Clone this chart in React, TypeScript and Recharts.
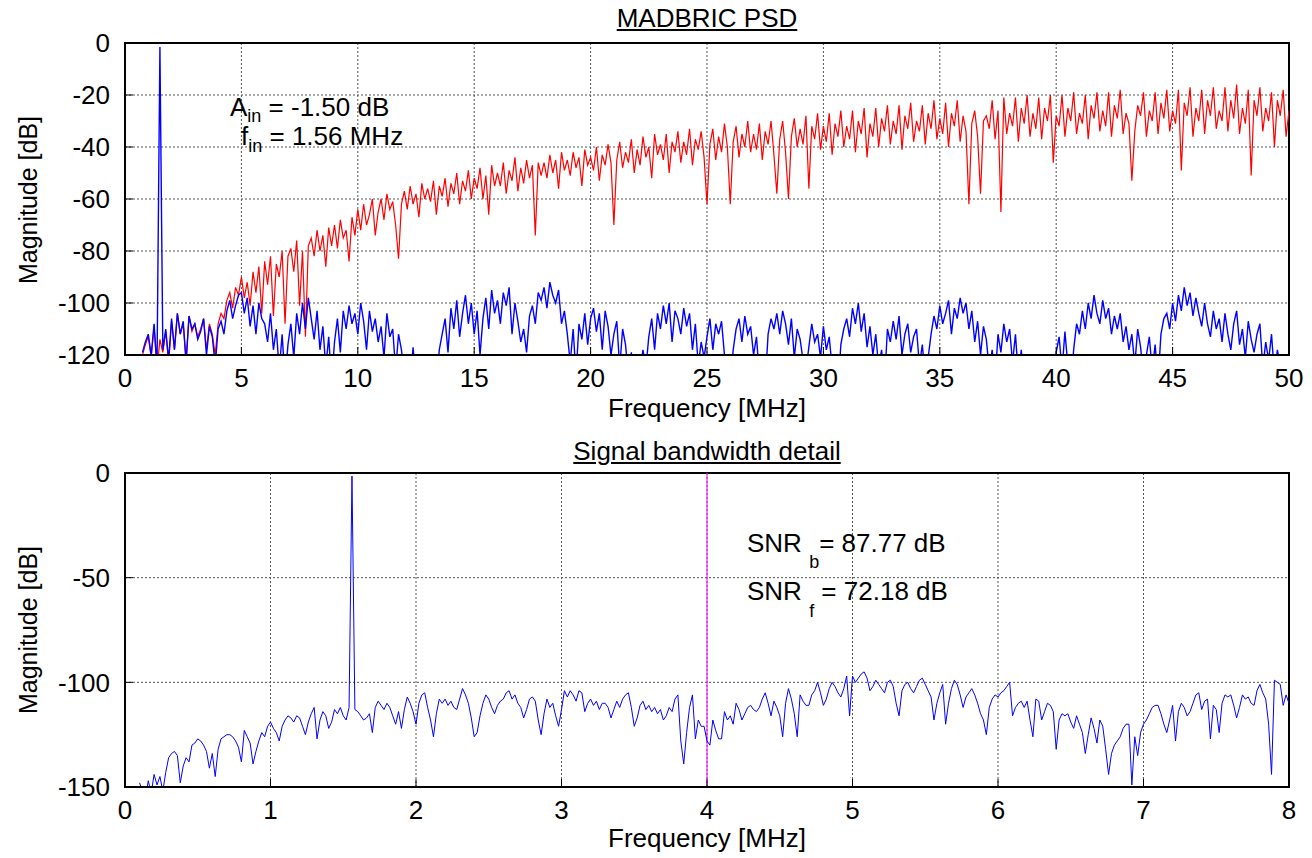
import React from 'react';
import { LineChart, Line, XAxis, YAxis, CartesianGrid, ReferenceArea, ReferenceLine } from 'recharts';

const FONT = '"Liberation Sans", Arial, Helvetica, sans-serif';

// upper plot: PSD bins every 0.125 MHz from 0.75 MHz
const PSD_START = 0.75;
const PSD_STEP = 0.125;

const psdRed = [
  -120, -116,
  -113, -121, -109, -126, -114, -119, -111, -123,
  -107, -118, -104, -112, -108, -122, -105, -111,
  -108, -113, -110, -106, -118, -108, -112, -120,
  -108, -104, -106, -99, -96, -102, -94, -97,
  -90, -98, -92, -101, -88, -96, -86, -104,
  -84, -93, -82, -105, -85, -90, -80, -108,
  -82, -79, -88, -76, -101, -80, -113, -78,
  -75, -82, -72, -80, -74, -86, -71, -78,
  -70, -79, -68, -75, -72, -84, -67, -74,
  -64, -72, -62, -70, -66, -60, -74, -65,
  -60, -68, -58, -64, -61, -70, -83, -62,
  -57, -64, -55, -62, -58, -67, -54, -60,
  -56, -61, -53, -66, -55, -59, -52, -63,
  -54, -58, -50, -62, -53, -57, -49, -60,
  -52, -56, -48, -60, -51, -66, -47, -55,
  -50, -55, -46, -58, -49, -53, -44, -57,
  -48, -54, -45, -52, -47, -74, -46, -51,
  -46, -52, -43, -50, -45, -56, -42, -49,
  -45, -51, -42, -48, -44, -55, -41, -47,
  -44, -49, -40, -53, -43, -47, -39, -46,
  -70, -45, -38, -48, -42, -46, -37, -50,
  -41, -47, -36, -44, -40, -52, -35, -43,
  -39, -45, -35, -50, -38, -42, -34, -46,
  -38, -43, -33, -47, -37, -41, -34, -44,
  -62, -39, -33, -45, -36, -42, -31, -40,
  -62, -38, -32, -44, -35, -40, -30, -42,
  -35, -41, -31, -45, -34, -39, -30, -43,
  -58, -37, -30, -42, -60, -36, -29, -40,
  -33, -39, -28, -56, -32, -37, -27, -41,
  -32, -38, -27, -43, -31, -36, -26, -40,
  -32, -37, -26, -42, -30, -35, -25, -44,
  -31, -36, -25, -40, -29, -34, -24, -39,
  -30, -35, -24, -41, -28, -33, -23, -38,
  -30, -34, -24, -39, -27, -33, -22, -37,
  -29, -35, -23, -40, -27, -32, -22, -38,
  -28, -34, -62, -31, -26, -36, -58, -30,
  -28, -33, -22, -37, -26, -65, -21, -35,
  -27, -32, -21, -38, -25, -31, -20, -36,
  -27, -33, -21, -37, -25, -30, -20, -46,
  -28, -32, -20, -36, -25, -30, -19, -35,
  -27, -31, -20, -37, -24, -29, -19, -34,
  -26, -32, -19, -36, -24, -29, -18, -35,
  -27, -31, -53, -34, -24, -28, -19, -36,
  -26, -30, -19, -35, -23, -29, -18, -34,
  -26, -31, -18, -49, -23, -28, -17, -36,
  -25, -30, -18, -35, -22, -28, -17, -33,
  -26, -30, -17, -34, -22, -29, -16, -35,
  -25, -31, -18, -51, -22, -28, -17, -34,
  -25, -30, -19, -40, -22, -28, -18, -36,
  -26,
];

const psdBlue = [
  -119, -115,
  -112, -120, -108, -125, -1.5, -118, -110, -122,
  -106, -118, -104, -112, -107, -123, -105, -110,
  -108, -114, -111, -106, -120, -109, -113, -124,
  -110, -107, -112, -103, -99, -106, -101, -97,
  -96, -104, -98, -109, -101, -112, -100, -106,
  -108, -115, -104, -118, -110, -126, -112, -130,
  -116, -108, -121, -104, -112, -100, -110, -98,
  -106, -114, -103, -118, -109, -125, -113, -130,
  -115, -106, -119, -103, -110, -101, -108, -104,
  -112, -100, -107, -118, -103, -111, -106, -115,
  -109, -121, -104, -113, -110, -126, -112, -118,
  -128, -135, -130, -117, -132, -138, -131, -136,
  -129, -134, -125, -131, -118, -112, -106, -119,
  -102, -110, -99, -113, -104, -97, -108, -100,
  -112, -103, -120, -106, -98, -110, -95, -104,
  -99, -108, -96, -101, -94, -112, -100, -107,
  -115, -110, -119, -105, -101, -108, -96, -99,
  -94, -102, -92, -97, -100, -95, -108, -103,
  -112, -123, -110, -128, -108, -114, -104, -116,
  -106, -102, -111, -104, -118, -103, -109, -120,
  -112, -107, -125, -110, -116, -128, -119, -132,
  -130, -126, -118, -125, -113, -106, -118, -104,
  -110, -101, -108, -100, -115, -103, -106, -112,
  -102, -109, -104, -118, -108, -124, -115, -121,
  -113, -106, -118, -108, -112, -107, -120, -128,
  -132, -118, -110, -106, -115, -105, -112, -109,
  -120, -113, -128, -124, -131, -112, -106, -110,
  -104, -112, -103, -108, -116, -106, -121, -110,
  -114, -122, -126, -117, -108, -115, -112, -121,
  -109, -118, -113, -125, -128, -134, -116, -110,
  -106, -113, -102, -108, -100, -111, -104, -117,
  -109, -120, -112, -125, -118, -131, -110, -115,
  -107, -114, -105, -120, -112, -108, -119, -113,
  -110, -124, -116, -129, -121, -112, -105, -110,
  -101, -108, -104, -99, -112, -102, -106, -98,
  -104, -100, -110, -103, -115, -107, -120, -109,
  -114, -126, -118, -130, -112, -119, -108, -115,
  -110, -123, -112, -128, -118, -133, -138, -131,
  -136, -129, -134, -140, -132, -128, -135, -130,
  -119, -113, -126, -111, -124, -131, -118, -108,
  -112, -103, -110, -100, -106, -97, -104, -108,
  -99, -106, -102, -112, -105, -110, -104, -115,
  -109, -118, -112, -124, -110, -117, -128, -120,
  -113, -126, -116, -130, -112, -106, -104, -110,
  -100, -107, -97, -103, -94, -101, -96, -105,
  -98, -104, -109, -100, -108, -113, -103, -110,
  -106, -115, -104, -112, -118, -108, -103, -116,
  -110, -121, -107, -114, -119, -112, -108, -125,
  -115, -122, -112, -128, -118, -124, -135, -140,
  -138,
];

const psdFreqTicks = [0, 5, 10, 15, 20, 25, 30, 35, 40, 45, 50];
const psdDbTicks = [-120, -100, -80, -60, -40, -20, 0];

// lower plot: signal band, bins every 0.02 MHz from 0.1 MHz
const BAND_START = 0.1;
const BAND_STEP = 0.02;

const bandBlue = [
  -148, -152, -156, -147, -153, -144, -149, -145, -152, -143,
  -136, -134, -133, -135, -148, -140, -136, -138, -130, -129,
  -127, -128, -130, -133, -141, -134, -145, -132, -127, -126,
  -125, -125, -126, -128, -131, -138, -123, -126, -129, -139,
  -133, -128, -124, -126, -121, -119, -122, -124, -128, -121,
  -118, -116, -117, -119, -116, -117, -121, -125, -119, -115,
  -112, -127, -118, -114, -116, -122, -119, -113, -115, -112,
  -116, -118, -112, -1.5, -113, -114, -116, -118, -117, -115,
  -124, -112, -109, -111, -113, -110, -112, -116, -120, -114,
  -122, -113, -107, -110, -114, -120, -110, -106, -105, -112,
  -118, -126, -115, -108, -110, -108, -111, -109, -112, -113,
  -108, -103, -106, -110, -117, -126, -124, -116, -110, -106,
  -108, -112, -115, -111, -109, -108, -105, -104, -108, -106,
  -110, -112, -117, -113, -108, -107, -109, -118, -125, -115,
  -108, -112, -110, -116, -121, -113, -104, -107, -104, -106,
  -109, -104, -105, -114, -110, -108, -111, -109, -113, -110,
  -110, -112, -117, -113, -109, -112, -108, -106, -105, -112,
  -121, -117, -111, -109, -113, -111, -114, -112, -115, -113,
  -118, -116, -112, -114, -108, -106, -128, -139, -124, -112,
  -106, -127, -118, -121, -121, -128, -130, -118, -123, -127,
  -127, -114, -118, -116, -120, -110, -113, -118, -115, -112,
  -111, -113, -114, -112, -108, -105, -110, -116, -109, -112,
  -116, -126, -110, -103, -108, -115, -126, -106, -109, -111,
  -111, -106, -104, -100, -105, -111, -108, -103, -100, -102,
  -105, -107, -103, -97, -116, -97, -100, -98, -96, -95,
  -98, -104, -102, -99, -101, -103, -105, -100, -99, -102,
  -110, -116, -104, -101, -100, -103, -105, -102, -99, -98,
  -101, -104, -107, -118, -110, -105, -101, -120, -110, -103,
  -99, -101, -106, -112, -107, -105, -103, -106, -110, -115,
  -118, -125, -112, -108, -106, -107, -105, -104, -102, -100,
  -116, -112, -110, -109, -112, -109, -118, -126, -108, -109,
  -118, -114, -110, -111, -114, -132, -118, -115, -116, -115,
  -119, -122, -116, -120, -124, -134, -125, -117, -122, -129,
  -118, -121, -132, -144, -134, -130, -128, -126, -122, -120,
  -120, -149, -126, -135, -124, -120, -118, -115, -112, -111,
  -111, -115, -120, -124, -118, -111, -128, -114, -110, -112,
  -116, -114, -110, -106, -105, -113, -109, -108, -127, -111,
  -113, -124, -110, -106, -107, -106, -111, -117, -112, -106,
  -108, -107, -110, -111, -104, -101, -105, -108, -120, -144,
  -99, -100, -101, -111, -106, -110,
];

const bandFreqTicks = [0, 1, 2, 3, 4, 5, 6, 7, 8];
const bandDbTicks = [-150, -100, -50, 0];

const psdData = psdRed.map((v, i) => ({ f: PSD_START + i * PSD_STEP, red: v, blue: psdBlue[i] }));
const bandData = bandBlue.map((v, i) => ({ f: BAND_START + i * BAND_STEP, blue: v }));

const tickStyle = { fill: '#000', fontSize: 26, fontFamily: FONT };

const Title = ({ text, top }: { text: string; top: number }) => (
  <div style={{
    position: 'absolute', left: 125, width: 1164, top, textAlign: 'center',
    fontFamily: FONT, fontSize: 26, lineHeight: '26px', textDecoration: 'underline',
  }}>{text}</div>
);

const AxisLabelX = ({ top }: { top: number }) => (
  <div style={{
    position: 'absolute', left: 125, width: 1164, top, textAlign: 'center',
    fontFamily: FONT, fontSize: 26, lineHeight: '26px',
  }}>Frequency [MHz]</div>
);

const AxisLabelY = ({ cy }: { cy: number }) => (
  <div style={{
    position: 'absolute', left: 28 - 150, top: cy - 13, width: 300, textAlign: 'center',
    fontFamily: FONT, fontSize: 25, lineHeight: '26px', transform: 'rotate(-90deg)',
  }}>Magnitude [dB]</div>
);

const Sub = ({ children, size, shift }: { children: React.ReactNode; size: number; shift: number }) => (
  <span style={{ fontSize: size, position: 'relative', top: shift }}>{children}</span>
);

const textLine = (left: number, top: number, size: number): React.CSSProperties => ({
  position: 'absolute', left, top, fontFamily: FONT, fontSize: size,
  lineHeight: `${size}px`, whiteSpace: 'pre',
});

export default function App() {
  return (
    <div style={{ position: 'absolute', left: 0, top: 0, width: 1312, height: 858, background: '#fff' }}>
      <Title text="MADBRIC PSD" top={5} />
      <div style={{ position: 'absolute', left: 0, top: 0 }}>
        <LineChart width={1312} height={430} data={psdData} margin={{ top: 43, right: 23, bottom: 0, left: 0 }}>
          <CartesianGrid stroke="#555" strokeDasharray="2 2" />
          <XAxis dataKey="f" type="number" domain={[0, 50]} ticks={psdFreqTicks} interval={0}
            allowDataOverflow height={75} tick={tickStyle} tickSize={-8} tickMargin={22}
            axisLine={{ stroke: '#000', strokeWidth: 2 }} tickLine={{ stroke: '#000' }} />
          <YAxis type="number" domain={[-120, 0]} ticks={psdDbTicks} interval={0}
            allowDataOverflow width={125} tick={tickStyle} tickSize={-8} tickMargin={23}
            axisLine={{ stroke: '#000', strokeWidth: 2 }} tickLine={{ stroke: '#000' }} />
          <Line dataKey="red" stroke="#ff0000" strokeWidth={1.2} dot={false} type="linear" isAnimationActive={false} />
          <Line dataKey="blue" stroke="#0000ff" strokeWidth={1.4} dot={false} type="linear" isAnimationActive={false} />
          <ReferenceArea x1={0} x2={50} y1={-120} y2={0} fill="none" stroke="#000" strokeWidth={2} ifOverflow="visible" />
        </LineChart>
      </div>
      <div style={textLine(230, 94, 26)}>A<Sub size={18} shift={6}>in</Sub> = -1.50 dB</div>
      <div style={textLine(241, 123, 26)}>f<Sub size={18} shift={7}>in</Sub> = 1.56 MHz</div>
      <AxisLabelX top={395} />
      <AxisLabelY cy={200} />

      <Title text="Signal bandwidth detail" top={438} />
      <div style={{ position: 'absolute', left: 0, top: 430 }}>
        <LineChart width={1312} height={428} data={bandData} margin={{ top: 43, right: 23, bottom: 0, left: 0 }}>
          <CartesianGrid stroke="#555" strokeDasharray="2 2" />
          <XAxis dataKey="f" type="number" domain={[0, 8]} ticks={bandFreqTicks} interval={0}
            allowDataOverflow height={71} tick={tickStyle} tickSize={-8} tickMargin={22}
            axisLine={{ stroke: '#000', strokeWidth: 2 }} tickLine={{ stroke: '#000' }} />
          <YAxis type="number" domain={[-150, 0]} ticks={bandDbTicks} interval={0}
            allowDataOverflow width={125} tick={tickStyle} tickSize={-8} tickMargin={23}
            axisLine={{ stroke: '#000', strokeWidth: 2 }} tickLine={{ stroke: '#000' }} />
          <ReferenceLine x={4} stroke="#ff00ff" strokeWidth={1} />
          <Line dataKey="blue" stroke="#0000ff" strokeWidth={1} dot={false} type="linear" isAnimationActive={false} />
          <ReferenceArea x1={0} x2={8} y1={-150} y2={0} fill="none" stroke="#000" strokeWidth={2} ifOverflow="visible" />
        </LineChart>
      </div>
      <div style={textLine(747, 530, 26)}>SNR <Sub size={18} shift={16}>b</Sub>= 87.77 dB</div>
      <div style={textLine(747, 578, 26)}>SNR <Sub size={18} shift={17}>f</Sub> = 72.18 dB</div>
      <AxisLabelX top={825} />
      <AxisLabelY cy={630} />
    </div>
  );
}
